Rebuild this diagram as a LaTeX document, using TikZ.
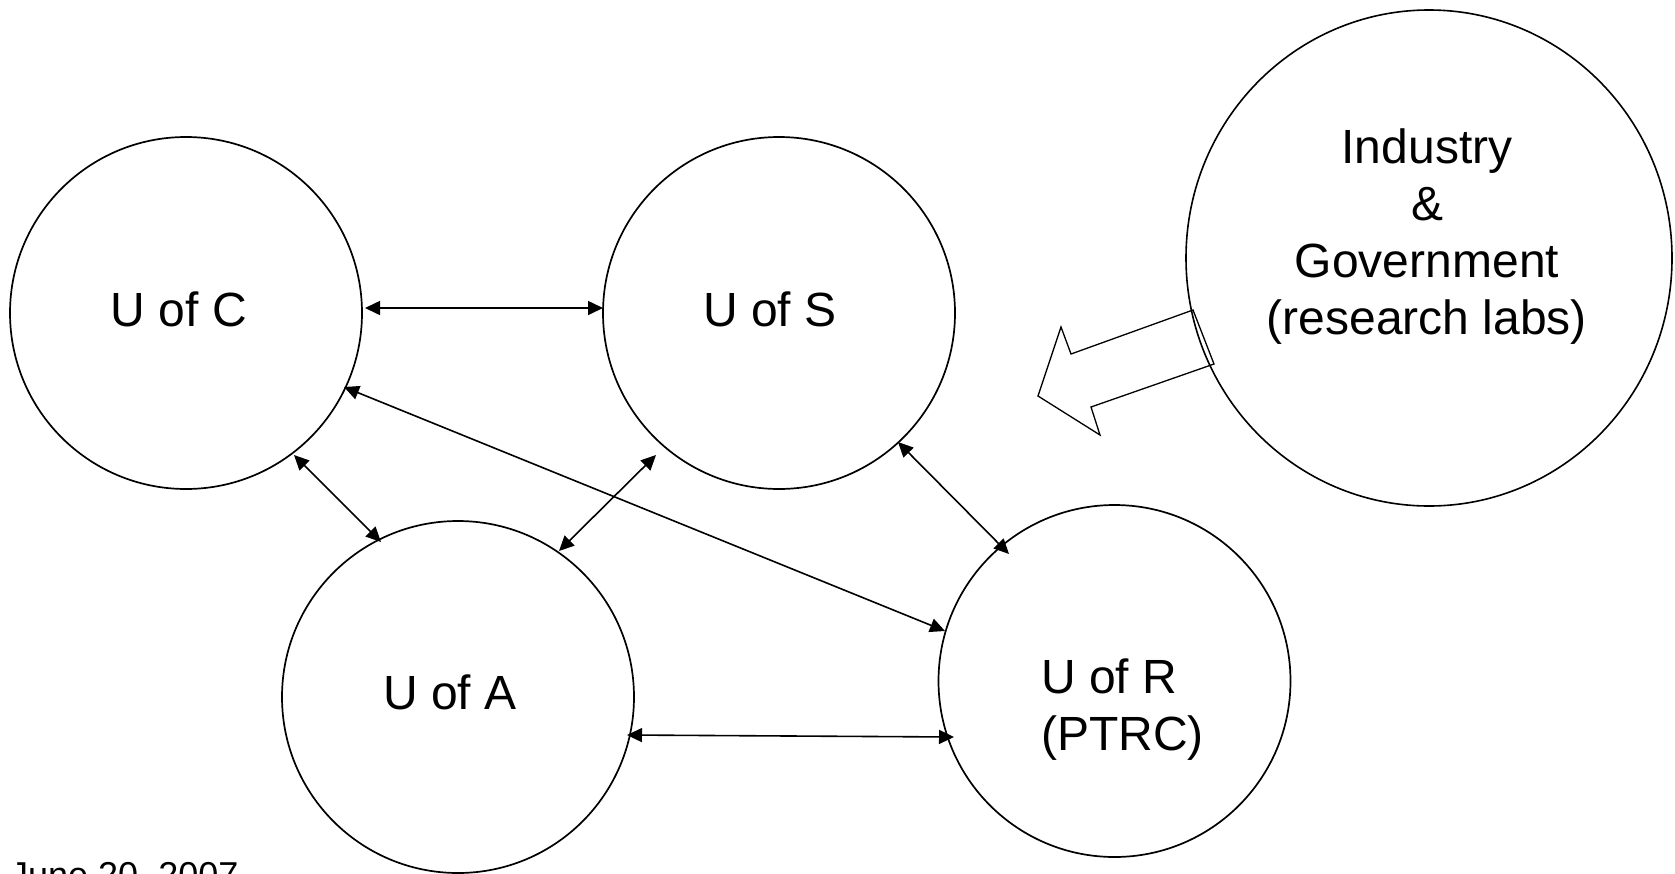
\documentclass[tikz,border=0pt]{standalone}
\usepackage{fontspec}
\setmainfont{Liberation Sans}
\usetikzlibrary{arrows.meta,calc,shapes.geometric}

\tikzset{
  uni/.style={circle, draw, line width=1.7pt, minimum size=352pt, inner sep=0pt},
  big/.style={ellipse, draw, line width=1.6pt, minimum width=486pt, minimum height=496pt, inner sep=0pt},
  lbl/.style={font=\fontsize{48}{57}\selectfont, inner sep=0pt, anchor=base},
  lblw/.style={lbl, anchor=base west},
  link/.style={<->, line width=1.6pt},
  >={Triangle[length=15pt,width=14pt]},
  flow/.style={draw, line width=1.3pt, fill=white, line join=miter}
}

\begin{document}
\begin{tikzpicture}[x=1pt,y=1pt]
  \fill[white] (0,0) rectangle (1675,-873);
  \useasboundingbox (0,0) rectangle (1675,-873);
  \clip (0,0) rectangle (1675,-873);

  % the five partners
  \node[uni] (C) at (186,-313) {};
  \node[uni] (S) at (779,-313) {};
  \node[uni] (A) at (458,-697) {};
  \node[uni] (R) at (1114.5,-681) {};

  % block arrow leaving the industry / government circle
  \draw[flow] (1193,-310) -- (1071,-354) -- (1061,-327) -- (1038,-396)
              -- (1100,-435) -- (1091,-407) -- (1214,-364) -- cycle;
  \node[big] (I) at (1429,-258) {};

  % labels
  \node[lbl] (Ct) at (179,-326) {U of C};
  \node[lbl] (St) at (770,-326) {U of S};
  \node[lbl] (At) at (450,-709) {U of A};
  \node[lblw] (Rt1) at (1041,-693) {U of R};
  \node[lblw] (Rt2) at (1041,-750) {(PTRC)};
  \node[lbl] (It1) at (1427,-163) {Industry};
  \node[lbl] (It2) at (1427,-220) {\&};
  \node[lbl] (It3) at (1427,-277) {Government};
  \node[lbl] (It4) at (1427,-334) {(research labs)};
  \node[font=\fontsize{36}{43}\selectfont, inner sep=0pt, anchor=base west] (date) at (10,-887) {June 20, 2007};

  % two-way links
  \draw[link] ($(C)+(179,5)$) -- ($(S)+(-176,5)$);
  \draw[link] ($(C)+(158,-74)$) -- ($(R)+(-169.5,50)$);
  \draw[link] ($(C)+(108,-142)$) -- ($(A)+(-77,155)$);
  \draw[link] ($(S)+(-123,-142)$) -- ($(A)+(101,146)$);
  \draw[link] ($(S)+(119,-129)$) -- ($(R)+(-105.5,127)$);
  \draw[link] ($(A)+(169,-38)$) -- ($(R)+(-160.5,-56)$);
\end{tikzpicture}
\end{document}
